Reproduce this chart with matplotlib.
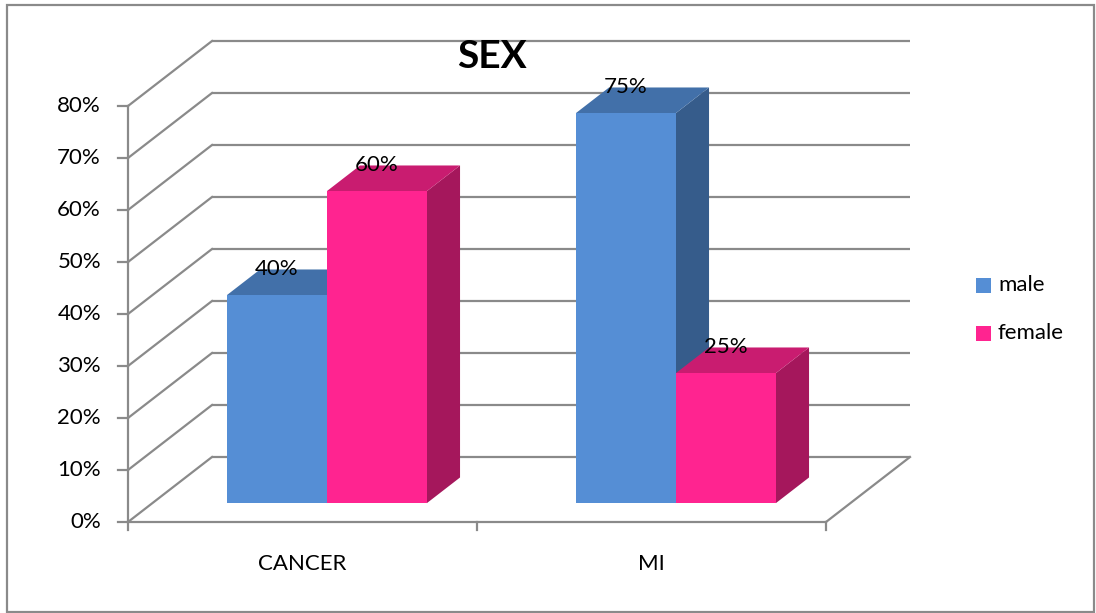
import matplotlib
matplotlib.use("Agg")
import matplotlib.pyplot as plt
from matplotlib.patches import Polygon, Rectangle

plt.rcParams['font.family'] = ['Lato', 'DejaVu Sans']

# ---- data ----
categories = ["CANCER", "MI"]
series_names = ["male", "female"]
male = [40, 75]
female = [60, 25]
yticks = [0, 10, 20, 30, 40, 50, 60, 70, 80]
title = "SEX"

# ---- style ----
W, H = 1096, 613
front_colors = {"male": "#558ED5", "female": "#FF2490"}
top_colors = {"male": "#4270A9", "female": "#C91C70"}
side_colors = {"male": "#365C8B", "female": "#A5175C"}
grid_c = "#8A8A8A"

# projection parameters (pixels)
x0_px, y0_px = 128, 522          # front-plane origin
cat_px = 349                      # pixels per category
v_px = 5.2                        # pixels per percent
depth_dx_px, depth_dy_px = 84, 65 # full depth offset

DX = depth_dx_px / cat_px         # in category units
DY = depth_dy_px / v_px           # in percent units

fig = plt.figure(figsize=(W / 100, H / 100), dpi=100)
ax = fig.add_axes([0, 0, 1, 1])
ax.set_xlim(-x0_px / cat_px, (W - x0_px) / cat_px)
ax.set_ylim((y0_px - H) / v_px, y0_px / v_px)
ax.axis("off")


def P(u, v, d):
    """project (category-unit, percent, depth fraction) to axes data coords"""
    return (u + d * DX, v + d * DY)


ymax = yticks[-1]
ncat = len(categories)
lw = 1.6

# back wall gridlines
for t in yticks:
    a = P(0, t, 1); b = P(ncat, t, 1)
    ax.plot([a[0], b[0]], [a[1], b[1]], color=grid_c, lw=lw, zorder=1, solid_capstyle='butt')
    # left wall diagonals
    c = P(0, t, 0)
    ax.plot([c[0], a[0]], [c[1], a[1]], color=grid_c, lw=lw, zorder=1)
    # y tick marks
    ax.plot([-10 / cat_px, 0], [t, t], color=grid_c, lw=lw, zorder=1)
    ax.text(-27 / cat_px, t, f"{t}%", ha="right", va="center", fontsize=16, color="black")

# floor right edge
a = P(ncat, 0, 0); b = P(ncat, 0, 1)
ax.plot([a[0], b[0]], [a[1], b[1]], color=grid_c, lw=lw, zorder=1)

# front axes
ax.plot([0, 0], [0, ymax], color=grid_c, lw=lw, zorder=5)
ax.plot([0, ncat], [0, 0], color=grid_c, lw=lw, zorder=5)
for k in range(ncat + 1):
    ax.plot([k, k], [0, -8 / v_px], color=grid_c, lw=lw, zorder=5)

# bars
d0, d1 = 0.29, 0.685
bw = 100 / cat_px
series = {"male": male, "female": female}
z = 2
for i, cat in enumerate(categories):
    center = i + 0.5
    for j, name in enumerate(series_names):
        val = series[name][i]
        left = center - bw + j * bw
        right = left + bw
        # front face
        f = [P(left, 0, d0), P(right, 0, d0), P(right, val, d0), P(left, val, d0)]
        top = [P(left, val, d0), P(right, val, d0), P(right, val, d1), P(left, val, d1)]
        side = [P(right, 0, d0), P(right, 0, d1), P(right, val, d1), P(right, val, d0)]
        ax.add_patch(Polygon(side, closed=True, facecolor=side_colors[name], edgecolor="none", zorder=z))
        ax.add_patch(Polygon(top, closed=True, facecolor=top_colors[name], edgecolor="none", zorder=z))
        ax.add_patch(Polygon(f, closed=True, facecolor=front_colors[name], edgecolor="none", zorder=z))
        z += 1
        lx, _ = P((left + right) / 2, val, d0)
        _, ly = P(left, val, d1)
        ax.text(lx, ly, f"{val}%", ha="center", va="center", fontsize=16, color="black", zorder=20)
    ax.text(center, (y0_px - 564) / v_px, cat, ha="center", va="center", fontsize=16, color="black")

# title
ax.text((492 - x0_px) / cat_px, (y0_px - 57) / v_px, title, ha="center", va="center",
        fontsize=28, fontweight="bold", color="black", zorder=20)

# legend
for k, name in enumerate(series_names):
    yc = 285 + k * 48
    fig.patches.append(Rectangle((976 / W, 1 - (yc + 7.5) / H), 15 / W, 15 / H,
                                 transform=fig.transFigure, facecolor=front_colors[name],
                                 edgecolor="none"))
    fig.text(998 / W, 1 - yc / H, name, ha="left", va="center", fontsize=16, color="black")

# outer border
fig.patches.append(Rectangle((7 / W, 1 - 612 / H), (1094 - 7) / W, (612 - 5) / H,
                             transform=fig.transFigure, facecolor="none",
                             edgecolor=grid_c, lw=1.6))

fig.savefig("out.png", dpi=100)
